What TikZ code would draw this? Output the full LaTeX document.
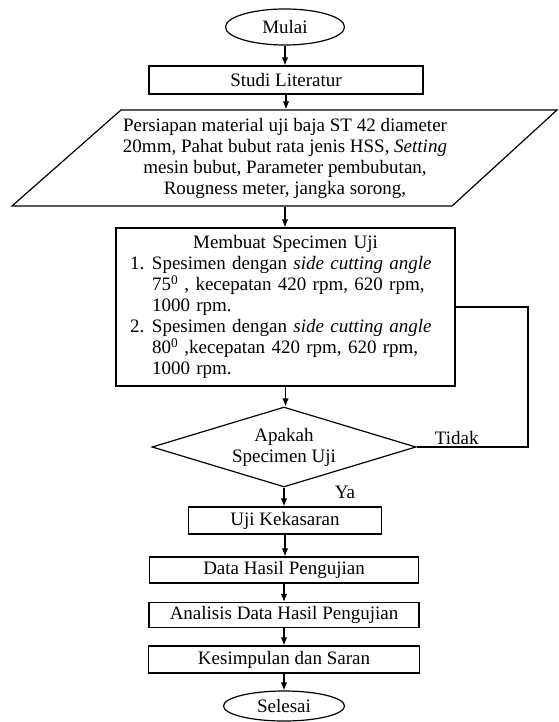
\documentclass[tikz,border=0pt]{standalone}
\usepackage{fontspec}
\setmainfont{Liberation Serif}
\usetikzlibrary{shapes.geometric,arrows.meta}
\newcommand{\nomor}[1]{\makebox[22pt][l]{#1}}
\newcommand{\sisip}{\hspace*{22pt}}

\begin{document}
\begin{tikzpicture}[>={Latex[length=8pt,width=6.5pt]}, x=1pt, y=-1pt, line width=1.2pt,
    font=\fontsize{19}{21}\selectfont,
    kotak/.style={draw, rectangle, minimum height=27pt, inner sep=2pt},
    oval/.style={draw, ellipse, inner sep=0pt},
    panah/.style={->}]
    \useasboundingbox (0,0) rectangle (558,722);

    % 1. Mulai dan studi literatur
    \node[oval, minimum width=119pt, minimum height=36pt] (mulai) at (285,27) {Mulai};
    \node[kotak, minimum width=274pt, minimum height=28pt] (studi) at (286,80) {Studi Literatur};

    % 2. Persiapan bahan dan alat
    \draw (121,110) -- (557,110) -- (452,206) -- (12,206) -- cycle;
    \node[minimum height=96pt, inner sep=0pt, align=center] (bahan) at (285,158)
        {Persiapan material uji baja ST 42 diameter\\
         20mm, Pahat bubut rata jenis HSS, \textit{Setting}\\
         mesin bubut, Parameter pembubutan,\\
         Rougness meter, jangka sorong,};

    % 3. Membuat specimen
    \node[kotak, minimum width=339pt, minimum height=158pt, text width=311pt,
        inner xsep=14pt, align=left] (spes) at (285.5,307)
        {\centerline{Membuat Specimen Uji}
         \nomor{1.}Spesimen dengan \textit{side cutting angle}\\
         \sisip 75\textsuperscript{0} , kecepatan 420 rpm, 620 rpm,\\
         \sisip 1000 rpm.\\
         \nomor{2.}Spesimen dengan \textit{side cutting angle}\\
         \sisip 80\textsuperscript{0} ,kecepatan 420 rpm, 620 rpm,\\
         \sisip 1000 rpm.};

    % 4. Keputusan
    \node[draw, diamond, aspect=3.3, minimum width=264pt, minimum height=80pt,
        inner sep=0pt, align=center] (cek) at (284,447) {Apakah\\Specimen Uji};
    \coordinate (belok) at (528,447);
    \node[anchor=base west] (tidak) at (431,444) {Tidak};
    \node[anchor=base] (ya) at (345,498) {Ya};

    % 5. Pengujian sampai selesai
    \node[kotak, minimum width=193pt] (uji) at (285,520.5) {Uji Kekasaran};
    \node[kotak, minimum width=269pt, minimum height=26pt] (data) at (284,570) {Data Hasil Pengujian};
    \node[kotak, minimum width=270pt, minimum height=25pt] (analisis) at (284,615) {Analisis Data Hasil Pengujian};
    \node[kotak, minimum width=271pt] (simpul) at (284,659.5) {Kesimpulan dan Saran};
    \node[oval, minimum width=121pt, minimum height=30pt] (selesai) at (284,706) {Selesai};

    % 6. Panah
    \draw[panah] (mulai) -- (mulai |- studi.north);
    \draw[panah] (studi) -- (studi |- bahan.north);
    \draw[panah] (bahan) -- (bahan |- spes.north);
    \draw[panah] (spes) -- (spes |- cek.north);
    \draw[panah] (cek) -- (cek |- uji.north);
    \draw[panah] (uji) -- (uji |- data.north);
    \draw[panah] (data) -- (analisis);
    \draw[panah] (analisis) -- (simpul);
    \draw[panah] (simpul) -- (selesai);
    \draw (cek.east) -- (belok) |- (spes.east);
\end{tikzpicture}
\end{document}
